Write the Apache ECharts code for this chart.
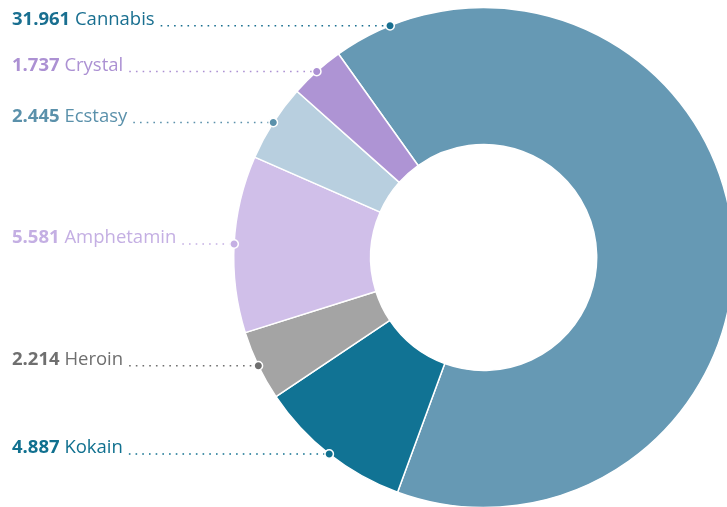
<!DOCTYPE html>
<html>
<head>
<meta charset="utf-8">
<script src="https://cdn.jsdelivr.net/npm/echarts@6/dist/echarts.min.js"></script>
<style>
html,body{margin:0;padding:0;background:#fff;}
#chart{width:727px;height:507px;}
</style>
</head>
<body>
<div id="chart"></div>
<script>
// ---- data ----
const categories = ['Cannabis', 'Kokain', 'Heroin', 'Amphetamin', 'Ecstasy', 'Crystal'];
const values = [31961, 4887, 2214, 5581, 2445, 1737];
const sliceColors = ['#6699b4', '#117394', '#a4a4a4', '#d0bfe9', '#b8cfdf', '#ae94d4'];
const labelColors = ['#196f90', '#10708f', '#6f6f6f', '#c4afe3', '#5b91ab', '#ac91d3'];

// ---- layout ----
const CX = 483.7, CY = 257.5, R_IN = 113, R_OUT = 250;
const START_ANGLE = 125.5;
const LABEL_X = 12;
const FONT = '"Open Sans", "Noto Sans", sans-serif';
const FONT_SIZE = 18.5;
// Cannabis' label anchor is pulled up to the top of the ring (degrees)
const anchorOverrideDeg = { 0: 112 };

const total = values.reduce((a, b) => a + b, 0);
function fmt(v) { return String(v).replace(/\B(?=(\d{3})+(?!\d))/g, '.'); }

// anchor angle values (in data units along the ring)
const anchorVals = [];
let cum = 0;
values.forEach((v, i) => {
  let a = cum + v / 2;
  if (anchorOverrideDeg[i] != null) a = (START_ANGLE - anchorOverrideDeg[i]) / 360 * total;
  anchorVals.push(a);
  cum += v;
});
function anchorPx(i) {
  const deg = START_ANGLE - anchorVals[i] / total * 360;
  const rad = deg * Math.PI / 180;
  return [CX + R_OUT * Math.cos(rad), CY - R_OUT * Math.sin(rad)];
}

const chart = echarts.init(document.getElementById('chart'), null, { renderer: 'canvas' });

const option = {
  backgroundColor: '#fff',
  animation: false,
  polar: { center: [CX, CY], radius: [0, R_OUT] },
  angleAxis: { type: 'value', min: 0, max: total, startAngle: START_ANGLE, clockwise: true, show: false },
  radiusAxis: { type: 'value', min: 0, max: R_OUT, show: false },
  series: [
    {
      type: 'pie',
      center: [CX, CY],
      radius: [R_IN, R_OUT],
      startAngle: START_ANGLE,
      clockwise: true,
      avoidLabelOverlap: false,
      itemStyle: { borderColor: '#fff', borderWidth: 1.5 },
      emphasis: { disabled: true },
      label: {
        show: true,
        position: 'outside',
        fontFamily: FONT,
        fontSize: FONT_SIZE,
        formatter: p => '{v|' + fmt(p.value) + '} {n|' + p.name + '}',
        rich: {
          v: { fontFamily: FONT, fontSize: FONT_SIZE, fontWeight: 'bold' },
          n: { fontFamily: FONT, fontSize: FONT_SIZE }
        }
      },
      labelLine: { show: true, length: 10, length2: 10, smooth: false,
        lineStyle: { width: 1.6, type: [1.6, 5.1] } },
      labelLayout: function (p) {
        const i = p.dataIndex;
        const a = anchorPx(i);
        const endX = LABEL_X + p.labelRect.width + 6;
        return {
          x: LABEL_X,
          y: a[1] - 6,
          align: 'left',
          verticalAlign: 'middle',
          labelLinePoints: [[endX, a[1]], [endX, a[1]], [a[0], a[1]]]
        };
      },
      data: categories.map((c, i) => ({
        name: c,
        value: values[i],
        itemStyle: { color: sliceColors[i] },
        label: { color: labelColors[i] },
        labelLine: { lineStyle: { color: labelColors[i] } }
      }))
    },
    {
      type: 'scatter',
      coordinateSystem: 'polar',
      z: 5,
      symbol: 'circle',
      symbolSize: 8.5,
      silent: true,
      data: categories.map((c, i) => ({
        value: [R_OUT, anchorVals[i]],
        itemStyle: { color: labelColors[i], borderColor: '#fff', borderWidth: 1.5, opacity: 1 }
      }))
    }
  ]
};
chart.setOption(option);
</script>
</body>
</html>
